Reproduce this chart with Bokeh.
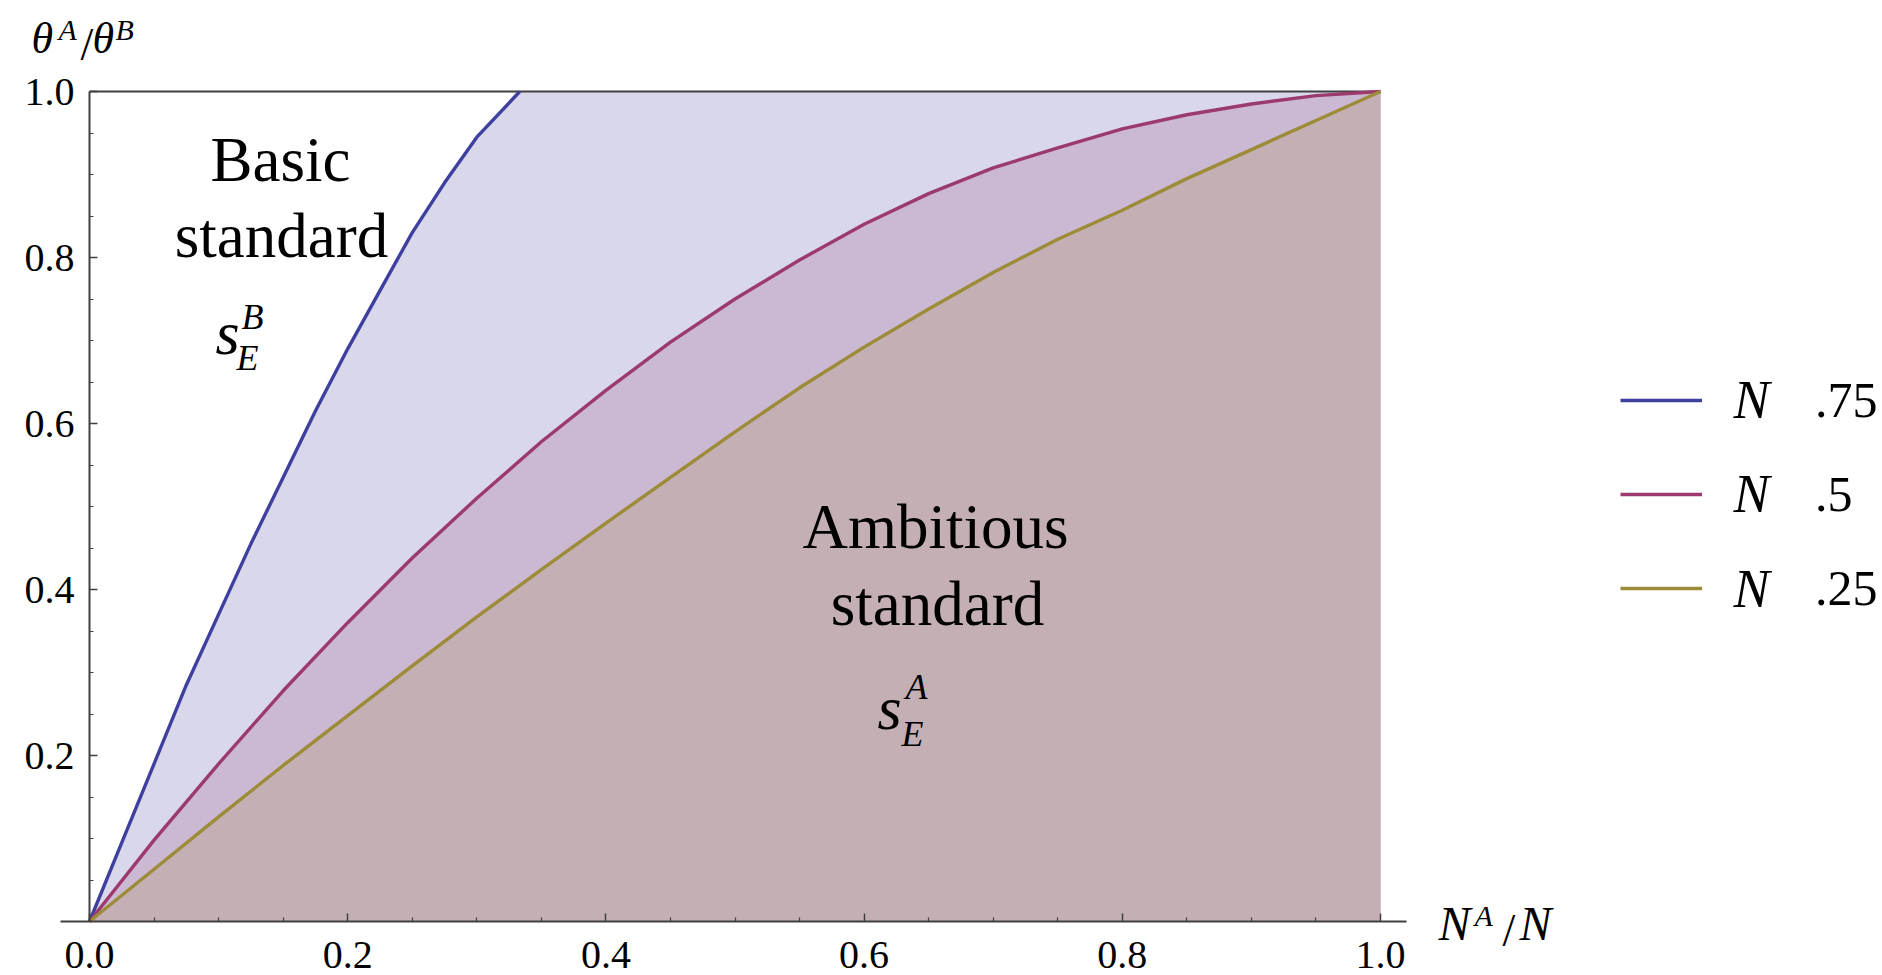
from bokeh.plotting import figure
from bokeh.models import Range1d, FixedTicker, PrintfTickFormatter, Label, Legend, LegendItem
from bokeh.embed import file_html
from bokeh.resources import INLINE

# ---------------- data ----------------
x_ticks = [0.0, 0.2, 0.4, 0.6, 0.8, 1.0]
x_minor = [0.05, 0.1, 0.15, 0.25, 0.3, 0.35, 0.45, 0.5, 0.55, 0.65, 0.7, 0.75, 0.85, 0.9, 0.95]
y_ticks = [0.2, 0.4, 0.6, 0.8, 1.0]
y_minor = [0.05, 0.1, 0.15, 0.25, 0.3, 0.35, 0.45, 0.5, 0.55, 0.65, 0.7, 0.75, 0.85, 0.9, 0.95]

series_labels = [".75", ".5", ".25"]

# N -> .75 (capped at 1 once it reaches the top)
blue_x = [0.0, 0.025, 0.05, 0.075, 0.1, 0.125, 0.15, 0.175, 0.2, 0.225, 0.25, 0.275, 0.3, 0.3333, 1.0]
blue_y = [0.0, 0.095, 0.19, 0.285, 0.37, 0.455, 0.535, 0.615, 0.69, 0.76, 0.83, 0.89, 0.945, 1.0, 1.0]
# N -> .5
magenta_x = [0.0, 0.05, 0.1, 0.15, 0.2, 0.25, 0.3, 0.35, 0.4, 0.45, 0.5, 0.55, 0.6, 0.65, 0.7,
             0.75, 0.8, 0.85, 0.9, 0.95, 1.0]
magenta_y = [0.0, 0.098, 0.19, 0.278, 0.36, 0.438, 0.51, 0.578, 0.64, 0.698, 0.75, 0.797, 0.84,
             0.877, 0.908, 0.932, 0.955, 0.972, 0.985, 0.995, 1.0]
# N -> .25
olive_x = [0.0, 0.05, 0.1, 0.15, 0.2, 0.25, 0.3, 0.35, 0.4, 0.45, 0.5, 0.55, 0.6, 0.65, 0.7,
           0.75, 0.8, 0.85, 0.9, 0.95, 1.0]
olive_y = [0.0, 0.063, 0.126, 0.188, 0.248, 0.308, 0.367, 0.424, 0.48, 0.535, 0.59, 0.643, 0.692,
           0.738, 0.782, 0.822, 0.857, 0.895, 0.930, 0.965, 1.0]

# ---------------- layout / styling ----------------
SERIF = "Liberation Serif"
BLUE, MAGENTA, OLIVE = "#3F3FA0", "#9C3A6E", "#9C8C38"
BLUE_FILL, MAGENTA_FILL, OLIVE_FILL = "#D8D8EA", "#CBB9D4", "#C3AFB4"
AXIS = "#404040"

W, H = 1882, 975          # canvas
X0, Y0 = 89, 921          # pixel position of data origin
PX_X, PX_Y = 1291.0, 830.0  # pixels per data unit


def dx(px):
    return (px - X0) / PX_X


def dy(py):
    return (Y0 - py) / PX_Y


p = figure(frame_width=W, frame_height=H,
           x_range=Range1d(dx(0), dx(W)), y_range=Range1d(dy(H), dy(0)),
           output_backend="svg", toolbar_location=None, min_border=0)
p.outline_line_color = None
p.grid.visible = False
p.background_fill_color = "white"
p.border_fill_color = "white"

for ax, ticks, minor, bnd in ((p.xaxis, x_ticks, x_minor, (dx(60), dx(1406))),
                              (p.yaxis, y_ticks, y_minor, (0, 1.0))):
    ax.fixed_location = 0
    ax.ticker = FixedTicker(ticks=ticks, minor_ticks=minor)
    ax.formatter = PrintfTickFormatter(format="%.1f")
    ax.bounds = bnd
    ax.axis_line_color = AXIS
    ax.axis_line_width = 2
    ax.major_tick_line_color = AXIS
    ax.minor_tick_line_color = AXIS
    ax.major_tick_line_width = 1.5
    ax.minor_tick_line_width = 1.2
    ax.major_tick_in = 8
    ax.major_tick_out = 0
    ax.minor_tick_in = 4
    ax.minor_tick_out = 0
    ax.major_label_text_font = SERIF
    ax.major_label_text_font_size = "40px"
    ax.major_label_text_color = "black"
p.xaxis.major_label_standoff = 20
p.yaxis.major_label_standoff = 15

# fills
p.varea(x=blue_x, y1=[0] * len(blue_x), y2=blue_y, fill_color=BLUE_FILL)
p.varea(x=magenta_x, y1=[0] * len(magenta_x), y2=magenta_y, fill_color=MAGENTA_FILL)
p.varea(x=olive_x, y1=[0] * len(olive_x), y2=olive_y, fill_color=OLIVE_FILL)

# top frame line
p.line([x_ticks[0], x_ticks[-1]], [y_ticks[-1], y_ticks[-1]], line_color=AXIS, line_width=2)

# curves
n_rise = blue_y.index(1.0) + 1
r_blue = p.line(blue_x[:n_rise], blue_y[:n_rise], line_color=BLUE, line_width=3.4)
r_mag = p.line(magenta_x, magenta_y, line_color=MAGENTA, line_width=3.4)
r_olive = p.line(olive_x, olive_y, line_color=OLIVE, line_width=3.4)

# legend (rows centred at 400, 494, 589 px)
legend = Legend(items=[LegendItem(label=series_labels[0], renderers=[r_blue]),
                       LegendItem(label=series_labels[1], renderers=[r_mag]),
                       LegendItem(label=series_labels[2], renderers=[r_olive])],
                location=(1620, H - 618), orientation="vertical",
                glyph_width=82, glyph_height=60, label_height=60, label_standoff=113,
                spacing=34, padding=0, margin=0,
                border_line_color=None, background_fill_alpha=0,
                label_text_font=SERIF, label_text_font_size="50px", label_text_color="black")
p.add_layout(legend)


def lab(px, baseline, text, size, italic=False, align="left"):
    # text placed by its baseline pixel; rendered with a middle baseline
    mid = baseline - 0.34 * size
    p.add_layout(Label(x=dx(px), y=dy(mid), text=text, text_font=SERIF,
                       text_font_style="italic" if italic else "normal",
                       text_font_size=f"{size}px", text_align=align, text_baseline="middle",
                       text_color="black"))


for row in (400, 494, 589):
    lab(1733, row + 18, "N", 54, italic=True)

# region labels
lab(280, 181, "Basic", 63, align="center")
lab(281, 257, "standard", 63, align="center")
lab(215, 354, "s", 62, italic=True)
lab(241, 329, "B", 36, italic=True)
lab(236, 370, "E", 36, italic=True)

lab(935, 548, "Ambitious", 63, align="center")
lab(937, 625, "standard", 63, align="center")
lab(877, 729, "s", 62, italic=True)
lab(905, 699, "A", 36, italic=True)
lab(901, 746, "E", 36, italic=True)

# y axis label  θ^A/θ^B
lab(31, 53, "θ", 44, italic=True)
lab(58, 39, "A", 30, italic=True)
lab(80, 60, "/", 46)
lab(92, 53, "θ", 44, italic=True)
lab(115, 39, "B", 30, italic=True)

# x axis label  N^A/N
lab(1438, 939, "N", 48, italic=True)
lab(1474, 925, "A", 30, italic=True)
lab(1502, 946, "/", 46)
lab(1519, 939, "N", 48, italic=True)

open("out.html", "w").write(file_html(p, INLINE))
